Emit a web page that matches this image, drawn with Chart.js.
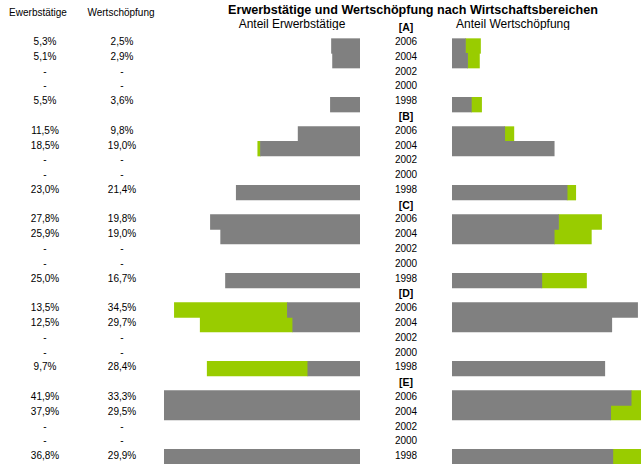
<!DOCTYPE html>
<html>
<head>
<meta charset="utf-8">
<script src="https://cdn.jsdelivr.net/npm/chart.js@4.4.0/dist/chart.umd.min.js"></script>
<style>
  html, body { margin: 0; padding: 0; background: #fff; }
  #wrap { position: relative; width: 641px; height: 464px; overflow: hidden; font-family: Arial, "Liberation Sans", sans-serif; color: #000; }
  #wrap canvas { position: absolute; }
  .t { position: absolute; white-space: nowrap; transform: translate(-50%, -50%); line-height: 1; }
  .title { font-size: 12.6px; font-weight: bold; }
  .sub { font-size: 12px; }
  .head { font-size: 10px; }
  .val { font-size: 10px; }
  .year { font-size: 10px; }
  .grp { font-size: 10.5px; font-weight: bold; }
  #subclip { position: absolute; left: 0; top: 0; width: 641px; height: 30px; overflow: hidden; }
</style>
</head>
<body>
<div id="wrap">
  <div id="subclip"></div>
  <canvas id="leftChart" width="196" height="440" style="left:164px;top:24px;width:196px;height:440px"></canvas>
  <canvas id="rightChart" width="189" height="440" style="left:452px;top:24px;width:189px;height:440px"></canvas>
</div>
<script>
const groups = ['[A]', '[B]', '[C]', '[D]', '[E]'];
const years = ['2006', '2004', '2002', '2000', '1998'];

// Anteil in %, je Bereich in der Reihenfolge der Jahre oben
const erwerbstaetige = [
    [5.3, 5.1, null, null, 5.5],
    [11.5, 18.5, null, null, 23.0],
    [27.8, 25.9, null, null, 25.0],
    [13.5, 12.5, null, null, 9.7],
    [41.9, 37.9, null, null, 36.8]
];
const wertschoepfung = [
    [2.5, 2.9, null, null, 3.6],
    [9.8, 19.0, null, null, 21.4],
    [19.8, 19.0, null, null, 16.7],
    [34.5, 29.7, null, null, 28.4],
    [33.3, 29.5, null, null, 29.9]
];

const GRAY = '#808080';
const GREEN = '#99cc00';

document.addEventListener('DOMContentLoaded', function () {
    const wrap = document.getElementById('wrap');
    const subclip = document.getElementById('subclip');

    const addText = (text, cls, x, y, parent) => {
        const el = document.createElement('div');
        el.className = 't ' + cls;
        el.textContent = text;
        el.style.left = x + 'px';
        el.style.top = y + 'px';
        (parent || wrap).appendChild(el);
    };

    const fmt = (v) => v == null ? '-' : v.toFixed(1).replace('.', ',') + '%';

    // one row for each group header, then one per year
    const labels = [];
    const erw = [];
    const wert = [];
    groups.forEach((g, gi) => {
        labels.push(g);
        erw.push(null);
        wert.push(null);
        years.forEach((y, yi) => {
            labels.push(g + ' ' + y);
            erw.push(erwerbstaetige[gi][yi]);
            wert.push(wertschoepfung[gi][yi]);
        });
    });

    // green part = how far the other share goes beyond this one
    const diff = (a, b) => a.map((v, i) => {
        if (v == null || b[i] == null || b[i] <= v) return null;
        return b[i] - v;
    });

    // texts
    addText('Erwerbstätige und Wertschöpfung nach Wirtschaftsbereichen', 'title', 413, 10);
    addText('Anteil Erwerbstätige', 'sub', 292, 24, subclip);
    addText('Anteil Wertschöpfung', 'sub', 513, 24, subclip);
    addText('Ewerbstätige', 'head', 38, 13);
    addText('Wertschöpfung', 'head', 121, 13);

    const rowY = (k) => 27.2 + k * 14.79;
    let k = 0;
    groups.forEach((g, gi) => {
        addText(g, 'grp', 406, rowY(k));
        k++;
        years.forEach((y, yi) => {
            addText(y, 'year', 406, rowY(k));
            addText(fmt(erwerbstaetige[gi][yi]), 'val', 45, rowY(k));
            addText(fmt(wertschoepfung[gi][yi]), 'val', 122, rowY(k));
            k++;
        });
    });

    const makeChart = (id, gray, green, max, reverse) => new Chart(document.getElementById(id), {
        type: 'bar',
        data: {
            labels: labels,
            datasets: [
                { data: gray, backgroundColor: GRAY, borderWidth: 0, barPercentage: 1, categoryPercentage: 1 },
                { data: green, backgroundColor: GREEN, borderWidth: 0, barPercentage: 1, categoryPercentage: 1 }
            ]
        },
        options: {
            indexAxis: 'y',
            responsive: false,
            animation: false,
            layout: { padding: 0 },
            plugins: { legend: { display: false }, tooltip: { enabled: false } },
            scales: {
                x: { stacked: true, min: 0, max: max, reverse: reverse, display: false },
                y: { stacked: true, display: false }
            }
        }
    });

    makeChart('leftChart', erw, diff(erw, wert), 36.43, true);
    makeChart('rightChart', wert, diff(wert, erw), 35.13, false);
});
</script>
</body>
</html>
